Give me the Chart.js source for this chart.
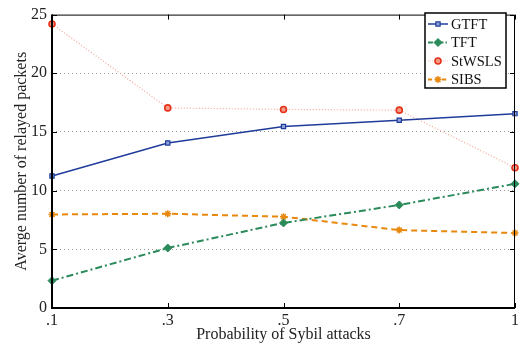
<!DOCTYPE html>
<html>
<head>
<meta charset="utf-8">
<script src="https://cdn.jsdelivr.net/npm/chart.js@4.4.0/dist/chart.umd.min.js"></script>
<style>
    html, body { margin: 0; padding: 0; background: #fff; }
    #wrap { width: 522px; height: 347px; }
</style>
</head>
<body>
<div id="wrap"><canvas id="chart" width="522" height="347"></canvas></div>
<script>
// data
const probLabels = ['.1', '.3', '.5', '.7', '1'];
const gtft   = [11.25, 14.06, 15.47, 16.0, 16.56];
const tft    = [2.33, 5.11, 7.25, 8.78, 10.58];
const stwsls = [24.2, 17.05, 16.92, 16.86, 11.95];
const sibs   = [7.97, 8.03, 7.78, 6.64, 6.39];
const yTicks = [0, 5, 10, 15, 20, 25];

const FONT = 'Liberation Serif';

// axis box, inward ticks and legend drawn by hand
const framePlugin = {
    id: 'frame',
    afterDatasetsDraw(chart) {
        const ctx = chart.ctx;
        const a = chart.chartArea;
        const xs = chart.scales.x;
        const ys = chart.scales.y;
        ctx.save();
        ctx.strokeStyle = '#000';

        // thin top/right
        ctx.lineWidth = 1;
        ctx.beginPath();
        ctx.moveTo(a.left, a.top + 0.5);
        ctx.lineTo(a.right - 0.5, a.top + 0.5);
        ctx.lineTo(a.right - 0.5, a.bottom);
        ctx.stroke();

        // inward tick marks
        xs.ticks.forEach((t, i) => {
            const x = Math.round(xs.getPixelForTick(i)) + 0.5;
            ctx.beginPath();
            ctx.moveTo(x, a.bottom); ctx.lineTo(x, a.bottom - 5);
            ctx.moveTo(x, a.top); ctx.lineTo(x, a.top + 5);
            ctx.stroke();
        });
        yTicks.forEach(v => {
            const y = Math.round(ys.getPixelForValue(v)) + 0.5;
            ctx.beginPath();
            ctx.moveTo(a.left, y); ctx.lineTo(a.left + 5, y);
            ctx.moveTo(a.right, y); ctx.lineTo(a.right - 5, y);
            ctx.stroke();
        });

        // thicker left/bottom
        ctx.lineWidth = 2;
        ctx.beginPath();
        ctx.moveTo(a.left, a.top);
        ctx.lineTo(a.left, a.bottom);
        ctx.lineTo(a.right, a.bottom);
        ctx.stroke();

        drawLegend(chart);
        ctx.restore();
    }
};

function drawLegend(chart) {
    const ctx = chart.ctx;
    const bx = 425, by = 13, bw = 81, bh = 75;
    ctx.fillStyle = '#fff';
    ctx.fillRect(bx, by, bw, bh);
    ctx.lineWidth = 1.5;
    ctx.strokeStyle = '#000';
    ctx.strokeRect(bx, by, bw, bh);

    ctx.font = '14.5px "' + FONT + '"';
    ctx.textBaseline = 'middle';
    ctx.textAlign = 'left';
    chart.data.datasets.forEach((ds, i) => {
        const y = by + 11 + i * 18.5;
        ctx.save();
        ctx.strokeStyle = ds.borderColor;
        ctx.lineWidth = ds.borderWidth;
        ctx.setLineDash(ds.borderDash ? ds.borderDash.map(d => d * 0.7) : []);
        ctx.beginPath();
        ctx.moveTo(bx + 3, y);
        ctx.lineTo(bx + 23, y);
        ctx.stroke();
        ctx.setLineDash([]);
        ctx.strokeStyle = ds.pointBorderColor;
        ctx.fillStyle = ds.pointBackgroundColor;
        ctx.lineWidth = ds.pointBorderWidth;
        Chart.helpers.drawPoint(ctx, {
            pointStyle: ds.pointStyle,
            radius: ds.pointRadius,
            borderWidth: ds.pointBorderWidth,
            rotation: 0
        }, bx + 13, y);
        ctx.restore();
        ctx.fillStyle = '#111';
        ctx.fillText(ds.label, bx + 26, y + 1);
    });
}

const ctx = document.getElementById('chart').getContext('2d');
new Chart(ctx, {
    type: 'line',
    data: {
        labels: probLabels,
        datasets: [
            {
                label: 'GTFT',
                data: gtft,
                borderColor: '#1f3c9b',
                borderWidth: 1.5,
                pointStyle: 'rect',
                pointRadius: 3,
                pointBorderWidth: 1.2,
                pointBorderColor: '#1f3c9b',
                pointBackgroundColor: '#8fa0d8',
                tension: 0
            },
            {
                label: 'TFT',
                data: tft,
                borderColor: '#2a8a5a',
                borderWidth: 2,
                borderDash: [7, 3, 2, 3],
                pointStyle: 'rectRot',
                pointRadius: 4,
                pointBorderWidth: 1,
                pointBorderColor: '#2a8a5a',
                pointBackgroundColor: '#2a8a5a',
                tension: 0
            },
            {
                label: 'StWSLS',
                data: stwsls,
                borderColor: '#f4a596',
                borderWidth: 1.2,
                borderDash: [1, 2],
                pointStyle: 'circle',
                pointRadius: 3,
                pointBorderWidth: 1.6,
                pointBorderColor: '#e5301a',
                pointBackgroundColor: '#f59a85',
                tension: 0
            },
            {
                label: 'SIBS',
                data: sibs,
                borderColor: '#e8880f',
                borderWidth: 2,
                borderDash: [6, 4],
                pointStyle: 'star',
                pointRadius: 3.5,
                pointBorderWidth: 1.5,
                pointBorderColor: '#e8880f',
                pointBackgroundColor: '#e8880f',
                tension: 0
            }
        ]
    },
    options: {
        responsive: false,
        animation: false,
        layout: { padding: { top: 8, right: 7, left: 0, bottom: 0 } },
        plugins: {
            legend: { display: false },
            tooltip: { enabled: false }
        },
        scales: {
            x: {
                offset: false,
                grid: { display: false, drawTicks: false },
                border: { display: false },
                ticks: {
                    color: '#222',
                    padding: 3,
                    maxRotation: 0,
                    font: { family: FONT, size: 16 }
                },
                title: {
                    display: true,
                    text: 'Probability of Sybil attacks',
                    color: '#222',
                    padding: { top: 0, bottom: 3 },
                    font: { family: FONT, size: 16 }
                },
                afterFit(scale) { scale.height = 39; }
            },
            y: {
                min: 0,
                max: 25,
                grid: {
                    drawTicks: false,
                    lineWidth: 1,
                    color: c => (c.tick && (c.tick.value === 0 || c.tick.value === 25)) ? 'rgba(0,0,0,0)' : '#9a9a9a'
                },
                border: { display: false, dash: [1, 3] },
                ticks: {
                    stepSize: 5,
                    color: '#222',
                    padding: 5,
                    font: { family: FONT, size: 16 }
                },
                title: {
                    display: true,
                    text: 'Averge number of relayed packets',
                    color: '#222',
                    padding: { top: 12, bottom: 0 },
                    font: { family: FONT, size: 16 }
                },
                afterFit(scale) { scale.width = 52; }
            }
        }
    },
    plugins: [framePlugin]
});
</script>
</body>
</html>
